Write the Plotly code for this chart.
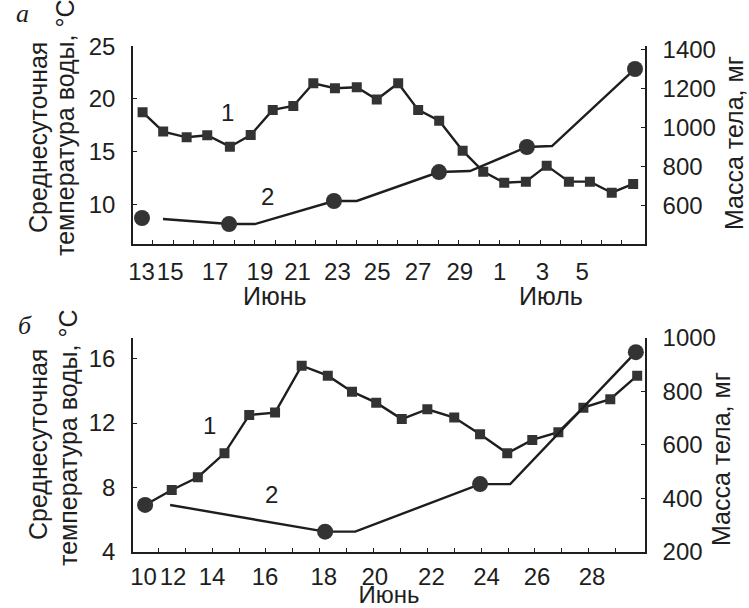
import plotly.graph_objects as go

W, H = 749, 608

# ---------- panel а: 13 June - 7 July ----------
a_temp_day = [13.50, 14.51, 15.66, 16.67, 17.78, 18.80, 19.88, 20.89, 21.87, 22.93, 24.00, 24.98,
              26.03, 27.01, 28.04, 29.19, 30.20, 31.23, 32.29, 33.31, 34.40, 35.43, 36.50, 37.55]
a_temp = [18.74, 16.90, 16.36, 16.55, 15.47, 16.58, 18.96, 19.34, 21.49, 21.02, 21.11, 19.95,
          21.49, 18.96, 17.94, 15.09, 13.10, 12.05, 12.15, 13.67, 12.15, 12.15, 11.10, 11.93]
a_mass_line_day = [14.50, 17.74, 19.00, 22.88, 24.00, 28.03, 29.55, 32.34, 33.57, 37.64]
a_mass_line = [532, 506, 506, 624, 624, 772, 777, 900, 905, 1299]
a_mass_pt_day = [13.47, 17.74, 22.88, 28.03, 32.34, 37.64]
a_mass_pt = [537, 506, 624, 772, 900, 1299]
a_tick_pos = [13.45, 14.85, 17.05, 19.25, 21.1, 23.05, 25.0, 27.0, 29.05, 31.0, 33.1, 35.05]
a_tick_text = ["13", "15", "17", "19", "21", "23", "25", "27", "29", "1", "3", "5"]
a_minor_ticks = list(range(14, 38))
a_temp_ticks = [10, 15, 20, 25]
a_mass_ticks = [400, 600, 800, 1000, 1200, 1400]

# ---------- panel б: 10 - 30 June ----------
b_temp_day = [11.51, 12.50, 13.47, 14.46, 15.38, 16.34, 17.33, 18.30, 19.20, 20.10, 21.05, 22.00,
              23.00, 23.96, 24.97, 25.90, 26.87, 27.80, 28.80, 29.80]
b_temp = [6.90, 7.84, 8.63, 10.12, 12.50, 12.65, 15.57, 14.95, 13.95, 13.27, 12.25, 12.86,
          12.34, 11.30, 10.12, 10.95, 11.43, 12.96, 13.48, 14.95]
b_mass_line_day = [12.44, 18.20, 19.32, 23.96, 25.08, 29.75]
b_mass_line = [375, 275, 275, 453, 453, 947]
b_mass_pt_day = [11.51, 18.20, 23.96, 29.75]
b_mass_pt = [375, 275, 453, 947]
b_tick_pos = [11.45, 12.55, 14.0, 15.97, 18.15, 20.05, 22.15, 24.2, 26.08, 28.12]
b_tick_text = ["10", "12", "14", "16", "18", "20", "22", "24", "26", "28"]
b_minor_ticks = list(range(12, 30))
b_temp_ticks = [4, 8, 12, 16]
b_mass_ticks = [200, 400, 600, 800, 1000]

FONT = "Liberation Sans, Arial, sans-serif"
INK = "#1e1e1e"
MARK = "#333333"
FS_TICK = 24
FS_TITLE = 25


def px(x):
    return x / W


def py(y):
    return 1 - y / H


fig = go.Figure()

# temperature (1)
fig.add_trace(go.Scatter(x=a_temp_day, y=a_temp, xaxis="x", yaxis="y", mode="lines+markers",
                         line=dict(color=INK, width=2.4),
                         marker=dict(symbol="square", size=10, color=MARK)))
# body mass (2)
fig.add_trace(go.Scatter(x=a_mass_line_day, y=a_mass_line, xaxis="x", yaxis="y2", mode="lines",
                         line=dict(color=INK, width=2.4)))
fig.add_trace(go.Scatter(x=a_mass_pt_day, y=a_mass_pt, xaxis="x", yaxis="y2", mode="markers",
                         marker=dict(symbol="circle", size=16, color=MARK)))

fig.add_trace(go.Scatter(x=b_temp_day, y=b_temp, xaxis="x2", yaxis="y3", mode="lines+markers",
                         line=dict(color=INK, width=2.4),
                         marker=dict(symbol="square", size=10, color=MARK)))
fig.add_trace(go.Scatter(x=b_mass_line_day, y=b_mass_line, xaxis="x2", yaxis="y4", mode="lines",
                         line=dict(color=INK, width=2.4)))
fig.add_trace(go.Scatter(x=b_mass_pt_day, y=b_mass_pt, xaxis="x2", yaxis="y4", mode="markers",
                         marker=dict(symbol="circle", size=16, color=MARK)))

tickfont = dict(family=FONT, size=FS_TICK, color=INK)
x_dom = [px(133), px(645)]
top_dom = [py(244), py(46.3)]
bot_dom = [py(551.7), py(338)]


def xaxis(dom_y_anchor, rng, pos, txt, minor, standoff, title=None):
    d = dict(domain=x_dom, anchor=dom_y_anchor, range=rng, showgrid=False, zeroline=False,
             showline=True, linecolor=INK, linewidth=1.5, ticks="", tickangle=0,
             tickmode="array", tickvals=pos, ticktext=txt, tickfont=tickfont,
             ticklabelstandoff=standoff, automargin=False,
             minor=dict(tickmode="array", tickvals=minor, ticks="inside", ticklen=4,
                        tickcolor=INK, tickwidth=1.2, showgrid=False))
    if title:
        d["title"] = dict(text=title, standoff=6,
                          font=dict(family=FONT, size=24, color=INK))
    return d


def yaxis(dom, anchor, rng, vals, side="left", overlay=None):
    d = dict(range=rng, showgrid=False, zeroline=False, showline=True, linecolor=INK,
             linewidth=1.5, ticks="inside", ticklen=4, tickcolor=INK, tickwidth=1.2,
             tickmode="array", tickvals=vals, tickfont=tickfont, side=side, anchor=anchor,
             ticklabelstandoff=11, automargin=False)
    if overlay:
        d["overlaying"] = overlay
    else:
        d["domain"] = dom
    return d


fig.update_layout(
    width=W, height=H, margin=dict(l=0, r=0, t=0, b=0),
    paper_bgcolor="white", plot_bgcolor="white", showlegend=False,
    xaxis=xaxis("y", [13.03, 38.13], a_tick_pos, a_tick_text, a_minor_ticks, 5),
    yaxis=yaxis(top_dom, "x", [6.23, 25.0], a_temp_ticks),
    yaxis2=yaxis(top_dom, "x", [404, 1415], a_mass_ticks, side="right", overlay="y"),
    xaxis2=xaxis("y3", [11.06, 30.09], b_tick_pos, b_tick_text, b_minor_ticks, 3, title="Июнь"),
    yaxis3=yaxis(bot_dom, "x2", [4.0, 17.29], b_temp_ticks),
    yaxis4=yaxis(bot_dom, "x2", [200, 1000], b_mass_ticks, side="right", overlay="y3"),
)

txt = dict(family=FONT, size=FS_TITLE, color=INK)
ann = []


def paper_text(x, y, s, angle=0, font=txt):
    ann.append(dict(x=px(x), y=py(y), xref="paper", yref="paper", text=s, showarrow=False,
                    textangle=angle, font=font, xanchor="center", yanchor="middle",
                    borderpad=0))


# axis titles
paper_text(38, 138, "Среднесуточная", -90)
paper_text(65, 128, "температура воды, °С", -90)
paper_text(734, 143, "Масса тела, мг", -90)
paper_text(275, 296, "Июнь")
paper_text(551, 296, "Июль")

paper_text(38, 445, "Среднесуточная", -90)
paper_text(68, 438, "температура воды, °С", -90)
paper_text(721, 459, "Масса тела, мг", -90)

# panel letters
letter = dict(family="Liberation Serif, Times New Roman, serif", size=26, color=INK)
paper_text(22, 14, "<i>а</i>", font=letter)
paper_text(25, 325, "<i>б</i>", font=letter)

# series numbers
for xr, yr, xv, yv, s in [("x", "y", 17.64, 18.67, "1"), ("x", "y", 19.6, 10.7, "2"),
                          ("x2", "y3", 13.89, 11.82, "1"), ("x2", "y3", 16.19, 7.53, "2")]:
    ann.append(dict(x=xv, y=yv, xref=xr, yref=yr, text=s, showarrow=False,
                    font=dict(family=FONT, size=FS_TICK, color=INK)))

fig.update_layout(annotations=ann)
fig.write_html("out.html")
